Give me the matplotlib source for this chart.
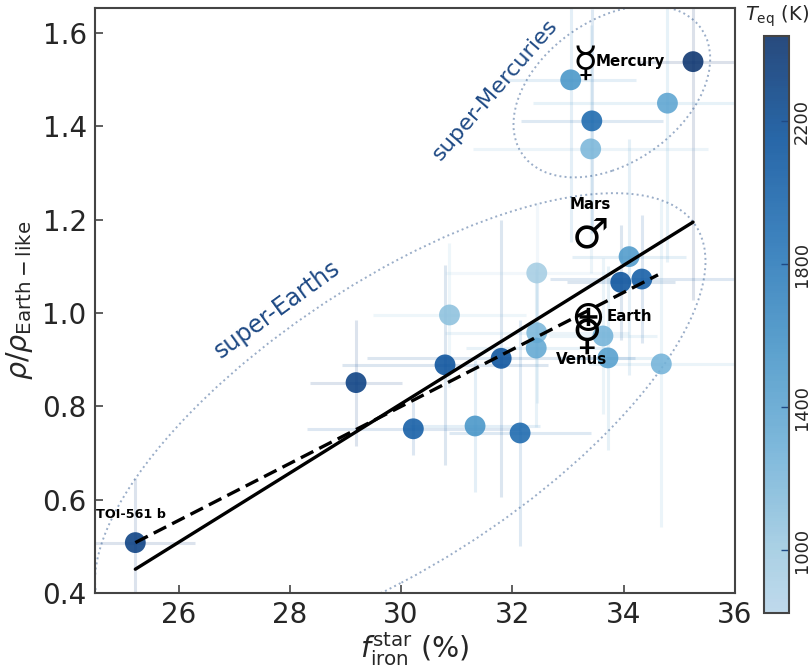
import matplotlib
matplotlib.use("Agg")
import matplotlib.pyplot as plt
import numpy as np
from matplotlib.colors import LinearSegmentedColormap, Normalize
from matplotlib.patches import Ellipse

# values
fe_star = [25.22, 29.19, 30.22, 31.33, 32.14, 30.79, 31.80, 30.87, 32.44, 32.44, 32.43,
           33.63, 33.72, 34.68, 33.95, 34.33, 34.10, 35.25, 33.05, 34.79, 33.43, 33.41]
fe_err = [1.08, 0.83, 1.91, 1.17, 1.27, 1.85, 2.41, 1.37, 1.65, 1.65, 1.26,
          0.97, 0.90, 1.30, 0.97, 1.65, 1.03, 1.00, 1.17, 2.41, 1.28, 2.11]
rho = [0.508, 0.851, 0.752, 0.758, 0.743, 0.889, 0.903, 0.996, 1.086, 0.958, 0.925,
       0.951, 0.904, 0.891, 1.066, 1.073, 1.121, 1.539, 1.500, 1.450, 1.412, 1.352]
rho_err = [0.139, 0.135, 0.057, 0.141, 0.243, 0.214, 0.297, 0.155, 0.150, 0.150, 0.170,
           0.167, 0.197, 0.350, 0.123, 0.137, 0.253, 0.510, 0.347, 0.340, 0.240, 0.266]
teq = [2300, 2300, 2050, 1550, 1950, 2150, 2150, 1100, 950, 1200, 1350,
       1250, 1450, 1250, 2150, 2050, 1500, 2420, 1550, 1400, 1950, 1200]

fit_solid_x = [25.22, 35.25]
fit_solid_y = [0.451, 1.195]
fit_dash_x = [25.22, 34.62]
fit_dash_y = [0.508, 1.082]

planets = ["Mercury", "Mars", "Earth", "Venus"]
planet_sym = ["\u263f", "\u2642", "\u2295", "\u2640"]
planet_x = [33.31, 33.40, 33.36, 33.33]
planet_y = [1.534, 1.166, 0.990, 0.950]

xticks = [26, 28, 30, 32, 34, 36]
yticks = [0.4, 0.6, 0.8, 1.0, 1.2, 1.4, 1.6]
cticks = [1000, 1400, 1800, 2200]

navy = "#1f4a85"
txt = "#262626"
spine = "#444444"

cmap = LinearSegmentedColormap.from_list("blues_cut", plt.cm.Blues(np.linspace(0.3, 1, 256)))
norm = Normalize(824, 2438)

fig = plt.figure(figsize=(8.11, 6.68), dpi=100)
ax = fig.add_axes([95 / 811, 1 - 593 / 668, 640 / 811, 585 / 668])

for i in range(len(rho)):
    ax.errorbar(fe_star[i], rho[i], xerr=fe_err[i], yerr=rho_err[i], fmt="none",
                ecolor=cmap(norm(teq[i])), elinewidth=2.2, alpha=0.14, zorder=1)

sc = ax.scatter(fe_star, rho, c=teq, s=225, cmap=cmap, norm=norm, alpha=0.87,
                linewidths=0, zorder=3)

ax.plot(fit_solid_x, fit_solid_y, color="k", lw=2.4, zorder=4, solid_capstyle="round")
ax.plot(fit_dash_x, fit_dash_y, color="k", lw=2.4, ls=(0, (4.2, 2)), zorder=4)

ax.add_patch(Ellipse((29.985, 0.769), 11.0, 0.695, angle=3.58, fill=False, ec=navy,
                     alpha=0.45, ls=":", lw=1.4, zorder=2))
ax.add_patch(Ellipse((33.79, 1.475), 3.54, 0.340, angle=2.3, fill=False, ec=navy,
                     alpha=0.45, ls=":", lw=1.4, zorder=2))

ax.text(31.69, 1.478, "super-Mercuries", color=navy, fontsize=16.2, rotation=49,
        ha="center", va="center")
ax.text(27.77, 1.007, "super-Earths", color=navy, fontsize=17, rotation=36,
        ha="center", va="center")

for i in range(len(planets)):
    ax.text(planet_x[i], planet_y[i], planet_sym[i], fontsize=30, color="k",
            ha="center", va="center", zorder=5)

ax.text(33.50, 1.54, "Mercury", fontsize=10.8, fontweight="bold", ha="left", va="center", zorder=5)
ax.text(33.41, 1.232, "Mars", fontsize=10.8, fontweight="bold", ha="center", va="center", zorder=5)
ax.text(33.70, 0.993, "Earth", fontsize=10.8, fontweight="bold", ha="left", va="center", zorder=5)
ax.text(33.25, 0.90, "Venus", fontsize=10.8, fontweight="bold", ha="center", va="center", zorder=5)
ax.text(25.14, 0.569, "TOI-561 b", fontsize=9.2, fontweight="bold", ha="center", va="center", zorder=5)

ax.set_xlim(24.495, 36.005)
ax.set_ylim(0.4, 1.654)
ax.set_xticks(xticks)
ax.set_yticks(yticks)
ax.set_yticklabels(["%.1f" % v for v in yticks])
ax.tick_params(direction="in", length=6, width=1.2, color=spine, labelsize=20,
               labelcolor=txt, pad=6)
for s in ax.spines.values():
    s.set_color(spine)
    s.set_linewidth(1.5)
ax.set_xlabel(r"$f_{\mathrm{iron}}^{\mathrm{star}}$ (%)", fontsize=20.5, color=txt, labelpad=1)
ax.set_ylabel(r"$\rho/\rho_{\mathrm{Earth-like}}$", fontsize=20.5, color=txt, labelpad=5)

cax = fig.add_axes([764 / 811, 1 - 613 / 668, 25 / 811, 577 / 668])
cb = fig.colorbar(sc, cax=cax)
cb.set_ticks(cticks)
cb.ax.tick_params(direction="in", length=6, width=1, color=navy, labelsize=12.8,
                  labelcolor=txt, pad=3)
for lab in cb.ax.get_yticklabels():
    lab.set_rotation(90)
    lab.set_va("center")
cb.outline.set_edgecolor(spine)
cb.outline.set_linewidth(1.5)
fig.text(777 / 811, 1 - 16 / 668, r"$T_{\mathrm{eq}}$ (K)", fontsize=14, color=txt,
         ha="center", va="center")

fig.savefig("out.png", dpi=100)
